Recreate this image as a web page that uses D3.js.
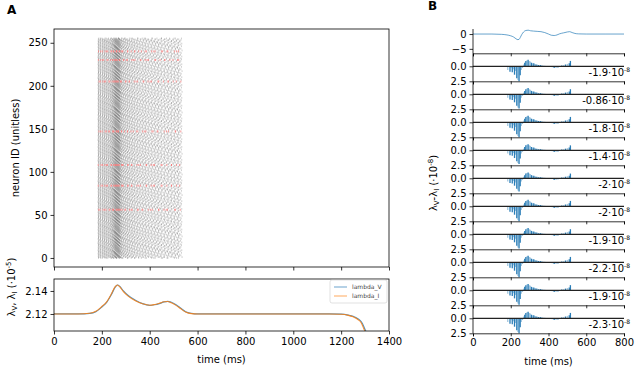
<!DOCTYPE html>
<html>
  <head>
    <title>Raster and lambda</title>
    <style>
      body {margin:0; background:#fff;}
      svg {width:640px; height:368px; display:block;}
      text {font-family:"DejaVu Sans", sans-serif; fill:#000;}
      .tick text {font-size:10px;}
      .axis path, .axis line {fill:none; stroke:#000; stroke-width:0.8px;}
      .lbl {font-size:10px;}
      .panel {font-size:12px; font-weight:bold;}
      .leg {font-size:6px; fill:#444;}
    </style>
    <script src="https://cdn.jsdelivr.net/npm/d3@7"></script>
  </head>
  <body>
    <svg id="chart"></svg>
    <script>
      // ---- data ----
      var neuronCount = 256;
      var spikeTimes  = [186, 194, 203, 211, 219, 227, 235, 242, 248, 253, 257, 261, 265, 269, 273, 278, 285, 293,
                         302, 311, 321, 331, 342, 353, 365, 377, 389, 402, 415, 428, 441, 455, 469, 483, 497, 511, 525];
      var spikeJitter = [0, 4, -3, 6, 2, -5, 7, -1, 3, -6, 5, 1, -4, 8, -2, 4, 0, -7, 6, -3, 2, 7, -5, 1];
      var redNeurons  = [240, 230, 205, 147, 108, 84, 56];

      var lambdaT = [0, 100, 150, 175, 200, 220, 240, 255, 265, 275, 290, 310, 340, 370, 400, 420, 440, 460, 475,
                     490, 510, 530, 550, 575, 600, 700, 1000, 1150, 1200, 1230, 1250, 1270, 1285, 1295, 1305];
      var lambdaV = [2.120, 2.120, 2.1205, 2.122, 2.126, 2.130, 2.137, 2.143, 2.1452, 2.144, 2.140, 2.136, 2.132,
                     2.129, 2.1275, 2.128, 2.129, 2.1305, 2.131, 2.1302, 2.128, 2.125, 2.122, 2.1205, 2.120, 2.120,
                     2.120, 2.120, 2.1198, 2.119, 2.118, 2.1158, 2.113, 2.109, 2.104];
      var lambdaI = [2.120, 2.120, 2.1206, 2.1223, 2.1265, 2.1305, 2.1375, 2.1435, 2.1452, 2.1435, 2.1395, 2.1355, 2.1315,
                     2.1288, 2.1276, 2.1282, 2.1293, 2.1306, 2.1308, 2.1298, 2.1275, 2.1245, 2.1218, 2.1203, 2.120, 2.120,
                     2.120, 2.120, 2.1197, 2.1188, 2.1175, 2.1152, 2.112, 2.107, 2.103];

      var traceT = [0, 100, 150, 180, 200, 215, 228, 238, 244, 250, 258, 268, 280, 292, 305, 320, 340, 360, 380,
                    400, 415, 430, 445, 460, 480, 500, 512, 525, 540, 560, 600, 700, 800];
      var traceV = [0, 0, -0.1, -0.3, -0.6, -1.0, -1.6, -1.9, -1.8, -1.2, -0.2, 0.7, 1.2, 1.3, 1.1, 1.0, 0.9, 0.8,
                    0.5, 0.0, -0.4, -0.5, -0.3, 0.1, 0.4, 0.7, 0.8, 0.5, 0.2, 0.05, 0, 0, 0];

      var barT     = [184, 190, 196, 202, 208, 214, 220, 226, 232, 238, 244, 250, 256, 262, 268, 274, 280, 286, 292,
                      298, 304, 310, 316, 322, 328, 334, 340, 346, 352, 358, 364, 370, 380, 390, 400, 410, 420, 430,
                      440, 450, 460, 470, 480, 490, 500, 510, 516];
      var barV     = [0.6, 0.1, 0.9, 0.3, 1.0, 0.5, 1.4, 0.8, 2.0, 2.3, 2.5, 1.5, 0.6, 0.2, -0.3, -0.6, -0.9, -1.0,
                      -1.1, -0.9, -0.8, -0.6, -0.5, -0.5, -0.4, -0.3, -0.3, -0.2, -0.2, -0.2, -0.15, -0.1, -0.1,
                      -0.05, 0.05, 0.1, 0.15, 0.3, 0.3, 0.2, 0.1, -0.15, -0.2, -0.3, -0.4, -0.5, -0.9];
      var barDark  = [0, 0, 1, 0, 1, 0, 1, 0, 1, 0, 1, 1, 0, 1, 0, 1, 1, 0, 1, 0, 0, 1, 0, 1, 0, 1, 0, 1, 0, 1, 0, 1,
                      0, 1, 0, 1, 0, 1, 0, 1, 0, 1, 0, 1, 0, 1, 1];
      var subScale = [1.0, 0.95, 1.0, 0.92, 0.88, 1.0, 0.95, 1.0, 0.96, 1.0];
      var subLabel = ["-1.9", "-0.86", "-1.8", "-1.4", "-2", "-2", "-1.9", "-2.2", "-1.9", "-2.3"];

      var blue = "#1f77b4", orange = "#ff7f0e";
      var svg = d3.select("#chart");

      // ---------- panel A : raster ----------
      var xA = d3.scaleLinear().domain([0, 1400]).range([54, 389]);
      var yR = d3.scaleLinear().domain([-10.5, 266]).range([267, 29]);

      var spikes = [];
      for (var n = 0; n < neuronCount; n++) {
        for (var k = 0; k < spikeTimes.length; k++) {
          var t = spikeTimes[k] + spikeJitter[(n + k) % spikeJitter.length] * (0.3 + k / spikeTimes.length);
          spikes.push({n: n, t: t, red: redNeurons.indexOf(n) >= 0});
        }
      }
      var rast = svg.append("g");
      rast.selectAll("line.sp")
          .data(spikes.filter(function(d) {return !d.red;}))
          .enter().append("line")
          .attr("x1", function(d) {return xA(d.t);}).attr("x2", function(d) {return xA(d.t);})
          .attr("y1", function(d) {return yR(d.n) - 0.9;}).attr("y2", function(d) {return yR(d.n) + 0.9;})
          .style("stroke", "#000").style("stroke-width", 0.5).style("stroke-opacity", 0.38);
      rast.selectAll("line.rd")
          .data(spikes.filter(function(d) {return d.red;}))
          .enter().append("line")
          .attr("x1", function(d) {return xA(d.t);}).attr("x2", function(d) {return xA(d.t);})
          .attr("y1", function(d) {return yR(d.n) - 1;}).attr("y2", function(d) {return yR(d.n) + 1;})
          .style("stroke", "#f26b6b").style("stroke-width", 0.7);

      svg.append("rect").attr("x", 54).attr("y", 29).attr("width", 335).attr("height", 238)
         .style("fill", "none").style("stroke", "#000").style("stroke-width", 0.8);
      svg.append("g").attr("class", "axis").attr("transform", "translate(54,0)")
         .call(d3.axisLeft(yR).tickValues([0, 50, 100, 150, 200, 250]).tickSize(3.5).tickPadding(3))
         .select(".domain").remove();
      svg.append("g").attr("class", "axis").attr("transform", "translate(0,267)")
         .call(d3.axisBottom(xA).ticks(7).tickSize(3.5).tickFormat(""))
         .select(".domain").remove();

      // ---------- panel A : lambda ----------
      var yL = d3.scaleLinear().domain([2.1052, 2.1504]).range([331, 279]);
      svg.append("clipPath").attr("id", "clipL").append("rect")
         .attr("x", 54).attr("y", 279).attr("width", 335).attr("height", 52);
      var lineL = d3.line().x(function(d) {return xA(d[0]);}).y(function(d) {return yL(d[1]);}).curve(d3.curveMonotoneX);
      svg.append("path").attr("clip-path", "url(#clipL)")
         .attr("d", lineL(d3.zip(lambdaT, lambdaV)))
         .style("fill", "none").style("stroke", blue).style("stroke-width", 1.2).style("opacity", 0.8);
      svg.append("path").attr("clip-path", "url(#clipL)")
         .attr("d", lineL(d3.zip(lambdaT, lambdaI)))
         .style("fill", "none").style("stroke", orange).style("stroke-width", 1.1).style("opacity", 0.85);
      svg.append("rect").attr("x", 54).attr("y", 279).attr("width", 335).attr("height", 52)
         .style("fill", "none").style("stroke", "#000").style("stroke-width", 0.8);
      svg.append("g").attr("class", "axis").attr("transform", "translate(54,0)")
         .call(d3.axisLeft(yL).tickValues([2.12, 2.14]).tickFormat(d3.format(".2f")).tickSize(3.5).tickPadding(3))
         .select(".domain").remove();
      svg.append("g").attr("class", "axis").attr("transform", "translate(0,331)")
         .call(d3.axisBottom(xA).ticks(7).tickFormat(d3.format("d")).tickSize(3.5).tickPadding(3))
         .select(".domain").remove();

      // legend
      var leg = svg.append("g").attr("transform", "translate(330,280)");
      leg.append("rect").attr("width", 57).attr("height", 23).attr("rx", 2)
         .style("fill", "#fff").style("stroke", "#ccc").style("stroke-width", 0.6);
      [["lambda_V", blue], ["lambda_I", orange]].forEach(function(d, i) {
        leg.append("line").attr("x1", 4).attr("x2", 17).attr("y1", 7 + i * 9).attr("y2", 7 + i * 9)
           .style("stroke", d[1]).style("stroke-width", 1.1).style("opacity", 0.6);
        leg.append("text").attr("class", "leg").attr("x", 22).attr("y", 9 + i * 9).text(d[0]);
      });

      svg.append("text").attr("class", "lbl").attr("x", 221.5).attr("y", 363).attr("text-anchor", "middle").text("time (ms)");
      svg.append("text").attr("class", "lbl").attr("transform", "translate(19,148) rotate(-90)")
         .attr("text-anchor", "middle").text("neuron ID (unitless)");
      var yl = svg.append("text").attr("class", "lbl").attr("transform", "translate(15,287) rotate(-90)")
         .attr("text-anchor", "middle");
      yl.append("tspan").text("λ");
      yl.append("tspan").attr("font-size", "7px").attr("dy", 2).text("V");
      yl.append("tspan").attr("dy", -2).text(", λ");
      yl.append("tspan").attr("font-size", "7px").attr("dy", 2).text("I");
      yl.append("tspan").attr("dy", -2).text(" (·10");
      yl.append("tspan").attr("font-size", "7px").attr("dy", -4).text("-5");
      yl.append("tspan").attr("dy", 4).text(")");
      svg.append("text").attr("class", "panel").attr("x", 7).attr("y", 14).text("A");

      // ---------- panel B ----------
      var xB = d3.scaleLinear().domain([0, 800]).range([473, 624]);
      var yT = d3.scaleLinear().domain([-6.5, 1.7]).range([53.3, 29]);
      svg.append("path")
         .attr("d", d3.line().x(function(d) {return xB(d[0]);}).y(function(d) {return yT(d[1]);})
                   .curve(d3.curveMonotoneX)(d3.zip(traceT, traceV)))
         .style("fill", "none").style("stroke", blue).style("stroke-width", 0.9).style("opacity", 0.75);
      svg.append("g").attr("class", "axis").attr("transform", "translate(473,0)")
         .call(d3.axisLeft(yT).tickValues([-5, 0]).tickFormat(function(d) {return d < 0 ? "\u22125" : "0";}).tickSize(3.5).tickPadding(3))
         .select(".domain").attr("d", "M0,29V53.3");
      svg.append("g").attr("class", "axis").attr("transform", "translate(0,53.3)")
         .call(d3.axisBottom(xB).ticks(4).tickSize(3).tickFormat(""));

      var bars = d3.zip(barT, barV, barDark);
      subLabel.forEach(function(lab, i) {
        var top = 53.3 + 28 * i;
        var yS = d3.scaleLinear().domain([-2.17, 2.5]).range([top, top + 28]);
        var g = svg.append("g");
        g.selectAll("line.bar").data(bars).enter().append("line")
         .attr("x1", function(d) {return xB(d[0]);}).attr("x2", function(d) {return xB(d[0]);})
         .attr("y1", yS(0)).attr("y2", function(d) {return yS(d[1] * subScale[i]);})
         .style("stroke", blue).style("stroke-width", 1.3)
         .style("opacity", function(d) {return d[2] ? 0.95 : 0.4;});
        g.append("line").attr("x1", 473).attr("x2", 624).attr("y1", yS(0)).attr("y2", yS(0))
         .style("stroke", "#222").style("stroke-width", 1.3);
        g.append("g").attr("class", "axis").attr("transform", "translate(473,0)")
         .call(d3.axisLeft(yS).tickValues([0, 2.5]).tickFormat(d3.format(".1f")).tickSize(3.5).tickPadding(3))
         .select(".domain").attr("d", "M0," + top + "V" + (top + 28));
        var ax = g.append("g").attr("class", "axis").attr("transform", "translate(0," + (top + 28) + ")")
         .call(d3.axisBottom(xB).ticks(4).tickSize(3).tickPadding(3));
        if (i < subLabel.length - 1) ax.selectAll("text").remove();
        var tx = g.append("text").attr("class", "lbl").attr("x", 630).attr("y", yS(0) + 10)
         .attr("text-anchor", "end");
        tx.append("tspan").text(lab + "\u00b710");
        tx.append("tspan").attr("font-size", "6px").attr("dy", -4).text("-8");
      });

      svg.append("text").attr("class", "lbl").attr("x", 548.5).attr("y", 365).attr("text-anchor", "middle").text("time (ms)");
      var yb = svg.append("text").attr("class", "lbl").attr("transform", "translate(437,183) rotate(-90)")
         .attr("text-anchor", "middle");
      yb.append("tspan").text("λ");
      yb.append("tspan").attr("font-size", "7px").attr("dy", 2).text("V");
      yb.append("tspan").attr("dy", -2).text("-λ");
      yb.append("tspan").attr("font-size", "7px").attr("dy", 2).text("I");
      yb.append("tspan").attr("dy", -2).text(" (·10");
      yb.append("tspan").attr("font-size", "7px").attr("dy", -4).text("-8");
      yb.append("tspan").attr("dy", 4).text(")");
      svg.append("text").attr("class", "panel").attr("x", 428).attr("y", 10).text("B");
    </script>
  </body>
</html>
